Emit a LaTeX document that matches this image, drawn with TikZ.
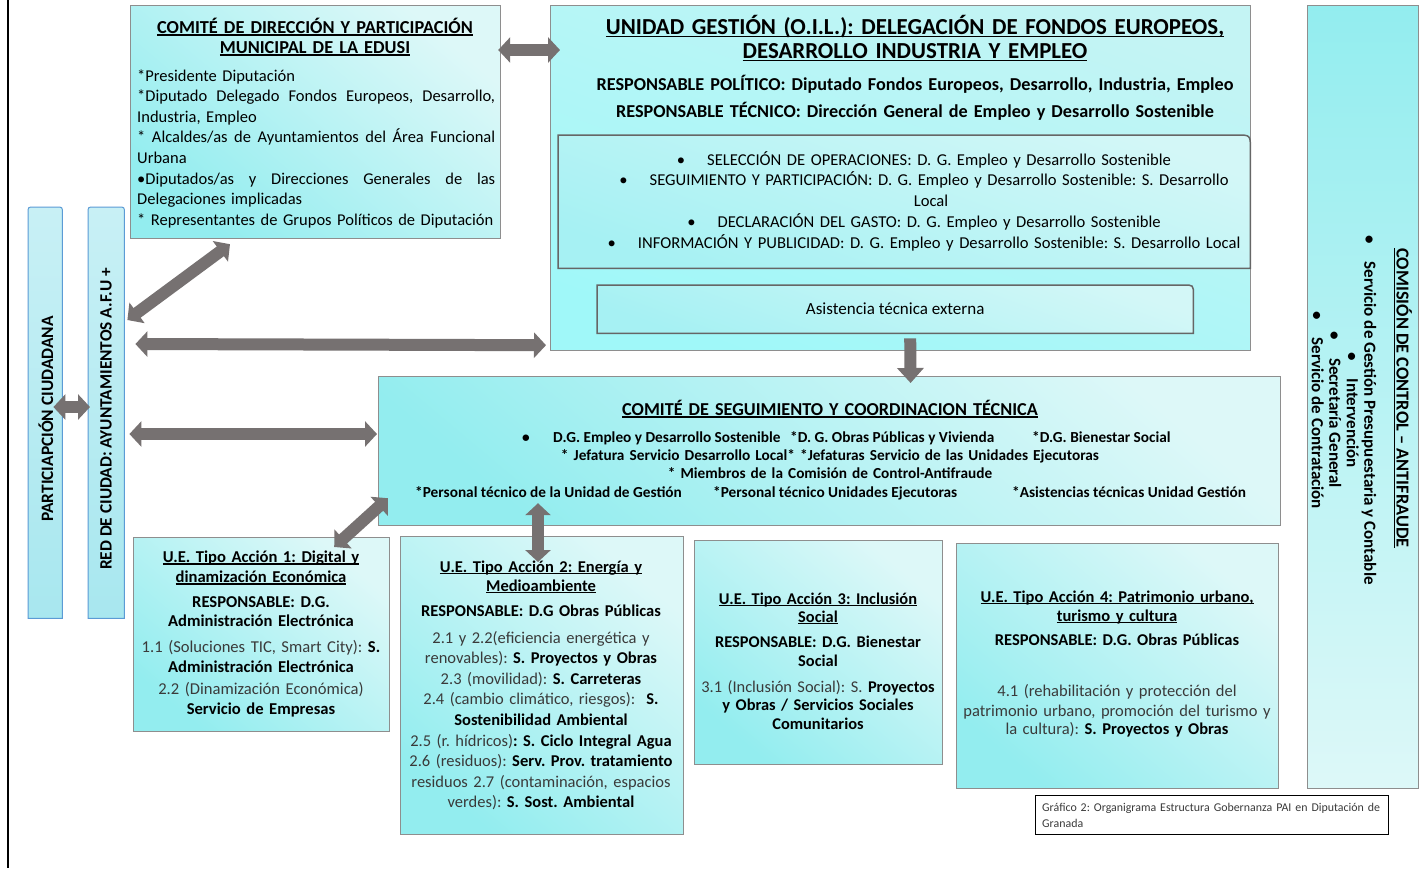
\documentclass[tikz,border=0pt]{standalone}
\usepackage{fontspec}
\setmainfont{Carlito}
\usetikzlibrary{arrows.meta,calc}
\definecolor{lc}{HTML}{DDF8F8}
\definecolor{dc}{HTML}{93EDEF}
\definecolor{bc}{HTML}{8E8E8E}
\definecolor{ac}{HTML}{767171}
\definecolor{uc1}{HTML}{C4F4F4}
\definecolor{uc2}{HTML}{A0F8F9}
\definecolor{ic1}{HTML}{D3F7F7}
\definecolor{ic2}{HTML}{A6F1F3}
\definecolor{pb}{HTML}{5B9BD5}
\definecolor{pc1}{HTML}{C8F0F5}
\definecolor{pc2}{HTML}{A8E7EF}
\definecolor{tg}{HTML}{3A3A3A}
\newcommand\myul[1]{\leavevmode\setbox0\hbox{#1}\rlap{\rule[-0.15em]{\wd0}{0.07em}}\box0}
\newcommand\jline[1]{\leavevmode\hbox to 358pt{\spaceskip=0.22em plus 1fil\relax #1}}
\begin{document}
\frenchspacing
\begin{tikzpicture}[x=1pt,y=-1pt,
  gbox/.style={draw=bc, line width=1.2pt, top color=lc, bottom color=dc, shading angle=-40, anchor=north west, inner sep=0pt},
  ubox/.style={draw=bc, line width=1.2pt, top color=uc1, bottom color=uc2, shading angle=-20, anchor=north west, inner sep=0pt},
  cbox/.style={draw=bc, line width=1.2pt, top color=dc, bottom color=lc, shading angle=0, anchor=north west, inner sep=0pt},
  ibox/.style={draw=gray!80!black, line width=1.5pt, top color=ic1, bottom color=ic2, shading angle=-20},
  pbox/.style={draw=pb, line width=1pt, top color=pc1, bottom color=pc2},
  geo/.style={anchor=north west, inner sep=0pt},
  txt/.style={inner sep=0pt, anchor=base, align=center},
  barrow/.style={draw=ac, line width=12pt, {Triangle[width=25pt,length=12pt]}-{Triangle[width=25pt,length=12pt]}},
  sarrow/.style={draw=ac, line width=12pt, -{Triangle[width=26pt,length=15pt]}}
]
\useasboundingbox (0,0) rectangle (1420,868);
\fill[white] (0,0) rectangle (1420,868);
\draw[line width=2.2pt] (8,0) -- (8,868);

% ---------- boxes ----------
\node[gbox, minimum width=370pt, minimum height=233pt] (dir) at (130,5) {};
\node[ubox, minimum width=700pt, minimum height=345pt] (uni) at (550,5) {};
\node[cbox, minimum width=111pt, minimum height=783pt] (com) at (1307,5) {};
\node[gbox, minimum width=902pt, minimum height=149pt] (seg) at (378,376) {};
\node[gbox, minimum width=256pt, minimum height=194pt] (ue1) at (133,537) {};
\node[gbox, minimum width=283pt, minimum height=298pt] (ue2) at (400,536) {};
\node[gbox, minimum width=248pt, minimum height=224pt] (ue3) at (694,540) {};
\node[gbox, minimum width=322pt, minimum height=245pt] (ue4) at (956,543) {};
\node[draw=black, line width=1pt, anchor=north west, minimum width=353pt, minimum height=39pt, inner sep=0pt] (cap) at (1035,795) {};

% inner boxes of the unidad
\node[geo, minimum width=692pt, minimum height=133pt] (ops) at (558,135) {};
\draw[ibox] (ops.south west) -- (ops.north west) -- ($(ops.north east)+(-14,0)$) .. controls (ops.north east) .. ($(ops.north east)+(0,14)$) -- (ops.south east) -- cycle;
\node[geo, minimum width=596pt, minimum height=48pt] (asis) at (597,285) {};
\draw[ibox] (asis.south west) -- (asis.north west) -- ($(asis.north east)+(-10,0)$) .. controls (asis.north east) .. ($(asis.north east)+(0,10)$) -- (asis.south east) -- cycle;

% left vertical boxes
\node[geo, minimum width=34pt, minimum height=411pt] (part) at (28,207) {};
\draw[pbox] (part.south west) -- ($(part.north west)+(0,6)$) .. controls (part.north west) .. ($(part.north west)+(6,0)$) -- ($(part.north east)+(-6,0)$) .. controls (part.north east) .. ($(part.north east)+(0,6)$) -- (part.south east) -- cycle;
\node[geo, minimum width=36pt, minimum height=411pt] (red) at (88,207) {};
\draw[pbox] (red.south west) -- ($(red.north west)+(0,6)$) .. controls (red.north west) .. ($(red.north west)+(6,0)$) -- ($(red.north east)+(-6,0)$) .. controls (red.north east) .. ($(red.north east)+(0,6)$) -- (red.south east) -- cycle;

% ---------- texts ----------
\node[txt, text width=366pt, font=\fontsize{18.3}{20}\selectfont\bfseries] (dirT) at (315,33)
 {\myul{COMITÉ DE DIRECCIÓN Y PARTICIPACIÓN}\\\myul{MUNICIPAL DE LA EDUSI}};
\node[inner sep=0pt, anchor=base west, text width=358pt, align=left, font=\fontsize{16.5}{20.6}\selectfont] (dirB) at (137,81)
 {{*}Presidente Diputación\\
  \jline{*Diputado Delegado Fondos Europeos, Desarrollo,}\\
  Industria, Empleo\\
  \jline{* Alcaldes/as de Ayuntamientos del Área Funcional}\\
  Urbana\\
  \jline{•Diputados/as y Direcciones Generales de las}\\
  Delegaciones implicadas\\
  \mbox{* Representantes de Grupos Políticos de Diputación}};

\node[txt, text width=696pt, font=\fontsize{22.9}{24}\selectfont\bfseries] (uniT) at (915,34)
 {\myul{UNIDAD GESTIÓN (O.I.L.): DELEGACIÓN DE FONDOS EUROPEOS,}\\\myul{DESARROLLO INDUSTRIA Y EMPLEO}};
\node[txt, text width=696pt, font=\fontsize{18.2}{27}\selectfont\bfseries] (uniR) at (915,90)
 {RESPONSABLE POLÍTICO: Diputado Fondos Europeos, Desarrollo, Industria, Empleo\\
  RESPONSABLE TÉCNICO: Dirección General de Empleo y Desarrollo Sostenible};
\node[txt, text width=686pt, font=\fontsize{16.6}{20.75}\selectfont] (opsT) at (924,165)
 {•\hspace{22pt}SELECCIÓN DE OPERACIONES: D. G. Empleo y Desarrollo Sostenible\\
  •\hspace{22pt}SEGUIMIENTO Y PARTICIPACIÓN: D. G. Empleo y Desarrollo Sostenible: S. Desarrollo\\
  \hspace*{14pt}Local\\
  •\hspace{22pt}DECLARACIÓN DEL GASTO: D. G. Empleo y Desarrollo Sostenible\\
  •\hspace{22pt}INFORMACIÓN Y PUBLICIDAD: D. G. Empleo y Desarrollo Sostenible: S. Desarrollo Local};
\node[inner sep=0pt, font=\fontsize{17}{20}\selectfont] (asisT) at (asis.center) {Asistencia técnica externa};

\node[inner sep=0pt, rotate=-90, font=\fontsize{18.3}{20}\selectfont\bfseries] (comT) at (1403,398)
 {\myul{COMISIÓN DE CONTROL – ANTIFRAUDE}};
\node[inner sep=0pt, rotate=-90, align=center, font=\fontsize{17}{17.5}\selectfont\bfseries] (comL) at (1344,410)
 {•\hspace{18pt}Servicio de Gestión Presupuestaria y Contable\\
  •\hspace{18pt}Intervención\\
  •\hspace{18pt}Secretaría General\\
  •\hspace{18pt}Servicio de Contratación};

\node[inner sep=0pt, rotate=90, font=\fontsize{17.4}{20}\selectfont\bfseries] (partT) at (46,419) {PARTICIAPCIÓN CIUDADANA};
\node[inner sep=0pt, rotate=90, font=\fontsize{17.3}{20}\selectfont\bfseries] (redT) at (106,419) {RED DE CIUDAD: AYUNTAMIENTOS A.F.U +};

\node[txt, text width=890pt, font=\fontsize{18.2}{20}\selectfont\bfseries] (segT) at (830,415)
 {\myul{COMITÉ DE SEGUIMIENTO Y COORDINACION TÉCNICA}};
\begin{scope}[every node/.style={inner sep=0pt, anchor=base west, font=\fontsize{15.3}{18}\selectfont\bfseries}]
\node (s1a) at (522,442) {•};
\node (s1b) at (553,442) {D.G. Empleo y Desarrollo Sostenible};
\node (s1c) at (790,442) {*D. G. Obras Públicas y Vivienda};
\node (s1d) at (1032,442) {*D.G. Bienestar Social};
\node (s4a) at (415,497) {*Personal técnico de la Unidad de Gestión};
\node (s4b) at (713,497) {*Personal técnico Unidades Ejecutoras};
\node (s4c) at (1012,497) {*Asistencias técnicas Unidad Gestión};
\end{scope}
\node[txt, text width=890pt, font=\fontsize{15.3}{18.2}\selectfont\bfseries] (s23) at (830,460)
 {{*} Jefatura Servicio Desarrollo Local* *Jefaturas Servicio de las Unidades Ejecutoras\\
  {*} Miembros de la Comisión de Control-Antifraude};

\node[txt, text width=254pt, font=\fontsize{16.6}{20}\selectfont\bfseries] (ue1T) at (261,562)
 {\myul{U.E. Tipo Acción 1: Digital y}\\
  \myul{dinamización Económica}\\[5pt]
  RESPONSABLE: D.G.\\[-1pt]
  Administración Electrónica\\[6pt]
  {\mdseries\color{tg}1.1 (Soluciones TIC, Smart City):} S.\\
  Administración Electrónica\\[2pt]
  {\mdseries\color{tg}2.2 (Dinamización Económica)}\\
  Servicio de Empresas};

\node[txt, text width=281pt, font=\fontsize{16.5}{20.6}\selectfont\bfseries] (ue2T) at (541,572)
 {\myul{U.E. Tipo Acción 2: Energía y}\\[-1.6pt]
  \myul{Medioambiente}\\[4.4pt]
  RESPONSABLE: D.G Obras Públicas\\[6.4pt]
  {\mdseries\color{tg}2.1 y 2.2(eficiencia energética y}\\
  {\mdseries\color{tg}renovables):} S. Proyectos y Obras\\
  {\mdseries\color{tg}2.3 (movilidad):} S. Carreteras\\
  {\mdseries\color{tg}2.4 (cambio climático, riesgos):}\ \ S.\\
  Sostenibilidad Ambiental\\
  {\mdseries\color{tg}2.5 (r. hídricos)}: S. Ciclo Integral Agua\\
  {\mdseries\color{tg}2.6 (residuos):} Serv. Prov. tratamiento\\
  {\mdseries\color{tg}residuos 2.7 (contaminación, espacios}\\
  {\mdseries\color{tg}verdes):} S. Sost. Ambiental};

\node[txt, text width=246pt, font=\fontsize{16.4}{19}\selectfont\bfseries] (ue3T) at (818,604)
 {\myul{U.E. Tipo Acción 3: Inclusión}\\[-1pt]
  \myul{Social}\\[6pt]
  RESPONSABLE: D.G. Bienestar\\
  Social\\[7pt]
  {\mdseries\color{tg}3.1 (Inclusión Social): S.} Proyectos\\[-1pt]
  y Obras / Servicios Sociales\\
  Comunitarios};

\node[txt, text width=320pt, font=\fontsize{16.5}{19}\selectfont\bfseries] (ue4T) at (1117,602)
 {\myul{U.E. Tipo Acción 4: Patrimonio urbano,}\\
  \myul{turismo y cultura}\\[5pt]
  RESPONSABLE: D.G. Obras Públicas\\[32pt]
  {\mdseries\color{tg}4.1 (rehabilitación y protección del}\\[1pt]
  {\mdseries\color{tg}patrimonio urbano, promoción del turismo y}\\[-1pt]
  {\mdseries\color{tg}la cultura):} S. Proyectos y Obras};

\node[inner sep=0pt, anchor=base west, text width=345pt, align=left, font=\fontsize{11.9}{16}\selectfont, text=tg] (capT) at (1042,811)
 {Gráfico 2: Organigrama Estructura Gobernanza PAI en Diputación de\\Granada};

% ---------- connectors ----------
\draw[barrow] ($(dir.north east)+(-3,45)$) -- ($(uni.north west)+(10,45)$);
\draw[barrow] ($(red.north east)+(3,113)$) -- ($(dir.south west)+(100,5)$);
\draw[barrow] ($(red.north east)+(11,137)$) -- ($(uni.south west)+(-4,-6)$);
\draw[barrow] ($(red.north east)+(5,227)$) -- ($(seg.north west)+(-1,58)$);
\draw[barrow] ($(part.north east)+(-9,200)$) -- ($(red.north west)+(2,200)$);
\draw[sarrow] ($(asis.south)+(15,5)$) -- ($(seg.north)+(81,7)$);
\draw[barrow] ($(ue1.north east)+(-56,10)$) -- ($(seg.south west)+(10,-28)$);
\draw[barrow] ($(seg.south west)+(160,-23)$) -- ($(ue2.north west)+(138,26)$);
\end{tikzpicture}
\end{document}
